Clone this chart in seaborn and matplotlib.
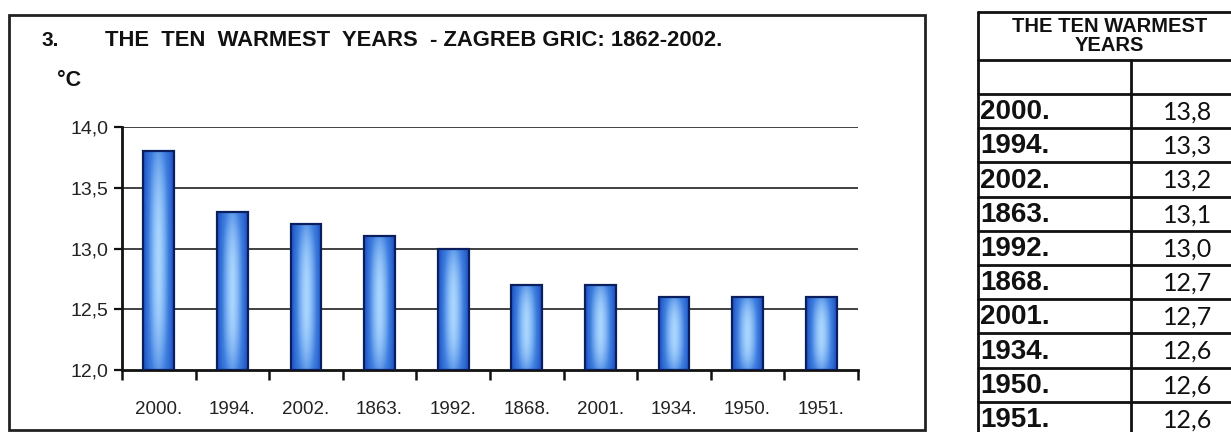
"""
The ten warmest years - Zagreb Gric 1862-2002
Bar chart with gradient bars plus a side table
"""

import numpy as np
import matplotlib
matplotlib.use("Agg")
import matplotlib.pyplot as plt
import seaborn as sns
from matplotlib.colors import LinearSegmentedColormap
from matplotlib.patches import Rectangle

years = ["2000.", "1994.", "2002.", "1863.", "1992.", "1868.", "2001.", "1934.", "1950.", "1951."]
temps = [13.8, 13.3, 13.2, 13.1, 13.0, 12.7, 12.7, 12.6, 12.6, 12.6]
y_ticks = [12.0, 12.5, 13.0, 13.5, 14.0]

title_text = "THE  TEN  WARMEST  YEARS  - ZAGREB GRIC: 1862-2002."
table_title = "THE TEN WARMEST\nYEARS"

W, H = 1231, 432

sns.set_theme(style="white")
plt.rcParams["font.family"] = ["Liberation Sans", "DejaVu Sans"]

narrow = ["Liberation Sans Narrow", "Liberation Sans", "DejaVu Sans"]


def comma(v):
    return f"{v:.1f}".replace(".", ",")


fig = plt.figure(figsize=(W / 100, H / 100), dpi=100)
fig.patch.set_facecolor("white")

# overlay in pixel coordinates for the frame, titles and the table
bg = fig.add_axes([0, 0, 1, 1], zorder=0)
bg.set_xlim(0, W)
bg.set_ylim(H, 0)
bg.axis("off")

bg.add_patch(Rectangle((9, 15), 916, 415, fill=False, edgecolor="#222222", linewidth=2))
bg.text(42, 40, "3.", fontsize=15, fontweight="bold", va="center", ha="left", color="#111111")
bg.text(105, 40, title_text, fontsize=15.8, fontweight="bold", va="center", ha="left", color="#111111")
bg.text(57, 80, "°C", fontsize=15.5, fontweight="bold", va="center", ha="left", color="#111111")

# table
t_left, t_mid, t_right = 978, 1131, 1245
t_top, head_bot, blank_bot, pitch = 12, 60, 94, 34.2
lw = 2
bg.plot([t_left, t_left], [t_top, H + 10], color="#111111", lw=lw)
bg.plot([t_right, t_right], [t_top, H + 10], color="#111111", lw=lw)
bg.plot([t_mid, t_mid], [head_bot, H + 10], color="#111111", lw=lw)
for yy in [t_top, head_bot, blank_bot]:
    bg.plot([t_left, t_right], [yy, yy], color="#111111", lw=lw)
bg.text((t_left + t_right) / 2 - 2, 36, table_title, fontsize=14.5, fontweight="bold",
        ha="center", va="center", linespacing=1.05, color="#111111")
for i, (yr, t) in enumerate(zip(years, temps)):
    y0 = blank_bot + i * pitch
    bg.plot([t_left, t_right], [y0 + pitch, y0 + pitch], color="#111111", lw=lw)
    bg.text(t_left + 2, y0 + pitch / 2 + 1, yr, fontsize=20, fontweight="bold",
            ha="left", va="center", color="#111111")
    bg.text((t_mid + t_right) / 2, y0 + pitch / 2 + 1, comma(t), fontsize=18,
            family=["Lato", "DejaVu Sans"], ha="center", va="center", color="#111111")

# main chart
ax_l, ax_r, ax_t, ax_b = 122, 858, 127, 370
ax = fig.add_axes([ax_l / W, 1 - ax_b / H, (ax_r - ax_l) / W, (ax_b - ax_t) / H], zorder=2)
ax.set_facecolor("none")

sns.barplot(x=years, y=temps, order=years, ax=ax, color="#2a5fd0", width=0.42,
            edgecolor="#0b1f5e", linewidth=1.4, zorder=3)

ax.set_ylim(12.0, 14.0)
ax.set_xlim(-0.5, len(years) - 0.5)
for v in y_ticks[1:]:
    ax.axhline(v, color="#333333", lw=1.3, zorder=1)

# cylinder-like gradient fill inside each bar
cmap = LinearSegmentedColormap.from_list("bar", ["#1c4ec0", "#3f7fe0", "#a9d6ff"])
u = np.linspace(-1, 1, 64)
gx = 1 - np.abs(u) ** 1.6
gy = 1 - 0.35 * np.abs(u) ** 2.5
grad = np.outer(gy, gx)
for p in ax.patches:
    x0, w, h = p.get_x(), p.get_width(), p.get_height()
    im = ax.imshow(grad, cmap=cmap, vmin=0, vmax=1, aspect="auto", zorder=3.5,
                   extent=[x0, x0 + w, 12.0, h], origin="lower", interpolation="bilinear")
    im.set_clip_path(p)
    edge = Rectangle((x0, 12.0), w, h - 12.0, fill=False, edgecolor="#0b1f5e",
                     linewidth=1.6, zorder=4)
    ax.add_patch(edge)
ax.set_ylim(12.0, 14.0)
ax.set_xlim(-0.5, len(years) - 0.5)

# axes styling
sns.despine(ax=ax, top=True, right=True)
for s in ["left", "bottom"]:
    ax.spines[s].set_color("#111111")
    ax.spines[s].set_linewidth(2)
ax.set_yticks(y_ticks)
ax.set_yticklabels([comma(v) for v in y_ticks], family=narrow, fontsize=14, color="#222222")
ax.tick_params(axis="y", direction="out", length=6, width=1.6, color="#111111", pad=4, left=True)
ax.set_xticks(range(len(years)))
ax.set_xticklabels(years, family=narrow, fontsize=13.5, color="#222222")
ax.set_xticks(np.arange(-0.5, len(years)), minor=True)
ax.tick_params(axis="x", which="major", length=0, pad=22)
ax.tick_params(axis="x", which="minor", direction="out", length=7, width=1.8,
               color="#111111", bottom=True)
ax.set_xlabel("")
ax.set_ylabel("")

fig.savefig("out.png", dpi=100)
